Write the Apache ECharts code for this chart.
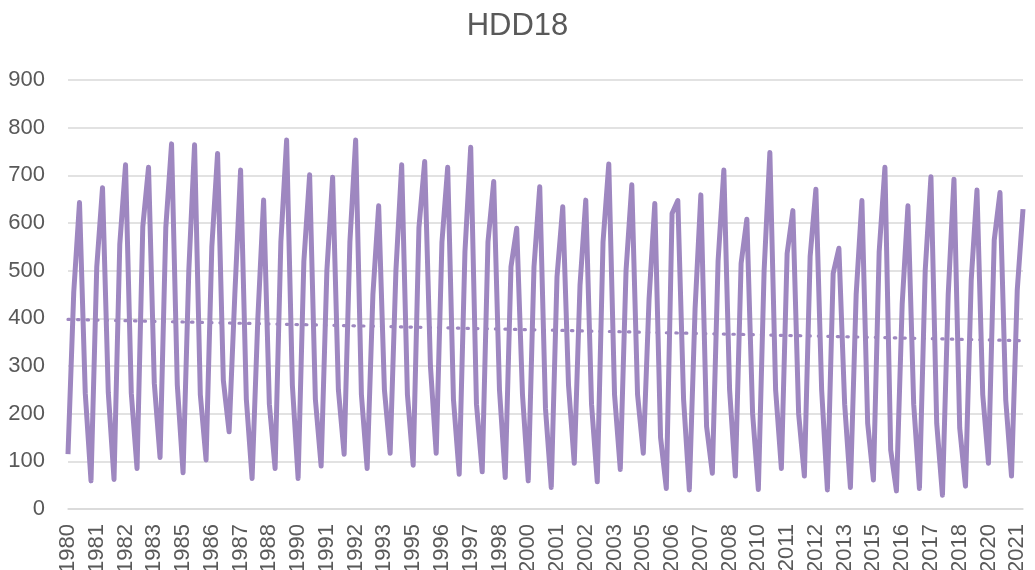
<!DOCTYPE html>
<html>
<head>
<meta charset="utf-8">
<script src="https://cdn.jsdelivr.net/npm/echarts@6/dist/echarts.min.js"></script>
<style>
  html, body { margin: 0; padding: 0; background: #fff; }
  #chart { width: 1035px; height: 570px; }
</style>
</head>
<body>
<div id="chart"></div>
<script>
// quarterly HDD18 values (Q1..Q4 per year)
var hdd1980s = [115,455,643,243, 59,508,674,245, 62,555,722,243, 85,592,717,264, 108,590,766,260,
                76,500,764,240, 103,550,746,270, 162,450,711,230, 64,400,648,220, 85,560,774,260];
var hdd1990s = [64,520,701,230, 90,500,696,250, 115,560,774,240, 85,450,636,250, 117,500,722,240,
                92,590,729,300, 117,560,717,230, 73,540,759,220, 78,560,687,250, 66,508,589,240];
var hdd2000s = [59,508,676,210, 45,487,634,260, 96,470,648,220, 57,560,724,240, 83,500,680,240,
                117,440,641,150, 43,620,647,230, 40,420,659,173, 75,520,711,250, 69,515,608,200];
var hdd2010s = [41,500,748,250, 85,536,626,200, 69,530,671,250, 40,494,547,220, 45,450,647,180,
                61,540,717,124, 38,430,636,220, 43,500,697,180, 29,450,692,170, 48,480,669,240];
var hdd2020s = [96,564,664,229, 69,459,629];

var firstYear = 1980;
var yTicks = [0, 100, 200, 300, 400, 500, 600, 700, 800, 900];

var values = hdd1980s.concat(hdd1990s, hdd2000s, hdd2010s, hdd2020s);

var categories = [];
for (var i = 0; i < values.length; i++) {
  categories.push((firstYear + Math.floor(i / 4)) + ' Q' + (i % 4 + 1));
}

// linear trendline (least squares) like Excel
var n = values.length, sx = 0, sy = 0, sxy = 0, sxx = 0;
for (var i = 0; i < n; i++) { sx += i; sy += values[i]; sxy += i * values[i]; sxx += i * i; }
var slope = (n * sxy - sx * sy) / (n * sxx - sx * sx);
var icpt = (sy - slope * sx) / n;
var trend = values.map(function (v, i) { return +(icpt + slope * i).toFixed(2); });

var font = "'Liberation Sans', Arial, sans-serif";
var lineColor = '#9E87C0';

var myChart = echarts.init(document.getElementById('chart'));
myChart.setOption({
  animation: false,
  title: {
    text: 'HDD18',
    left: 'center',
    top: 6,
    textStyle: { fontFamily: font, fontSize: 31, fontWeight: 'normal', color: '#595959' }
  },
  grid: { left: 68, right: 12, top: 80, bottom: 61, containLabel: false, outerBoundsMode: 'none' },
  xAxis: {
    type: 'category',
    data: categories,
    boundaryGap: false,
    axisLine: { show: true, lineStyle: { color: '#D9D9D9', width: 1.5 } },
    axisTick: { show: false },
    axisLabel: {
      interval: 4,
      rotate: 90,
      margin: 15,
      fontFamily: font,
      fontSize: 22,
      color: '#595959',
      formatter: function (v) { return v.slice(0, 4); }
    },
    splitLine: { show: false }
  },
  yAxis: {
    type: 'value',
    min: yTicks[0],
    max: yTicks[yTicks.length - 1],
    interval: 100,
    axisLine: { show: false },
    axisTick: { show: false },
    axisLabel: { margin: 23, fontFamily: font, fontSize: 22, color: '#595959' },
    splitLine: { lineStyle: { color: '#D9D9D9', width: 1.5 } }
  },
  series: [
    {
      name: 'HDD18',
      type: 'line',
      data: values,
      symbol: 'none',
      lineStyle: { color: lineColor, width: 5, join: 'round' },
      z: 2
    },
    {
      name: 'Linear (HDD18)',
      type: 'line',
      data: trend,
      symbol: 'none',
      lineStyle: { color: lineColor, width: 3.2, type: [1.5, 8], cap: 'round' },
      z: 3
    }
  ]
});
</script>
</body>
</html>
